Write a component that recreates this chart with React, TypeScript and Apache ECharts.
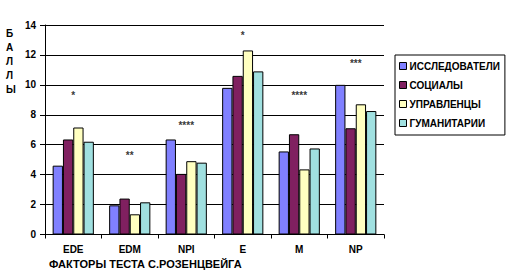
import React, { useEffect, useRef } from "react";
import * as echarts from "echarts";

const categories = ["EDE", "EDM", "NPI", "E", "M", "NP"];
const seriesNames = ["ИССЛЕДОВАТЕЛИ", "СОЦИАЛЫ", "УПРАВЛЕНЦЫ", "ГУМАНИТАРИИ"];
const researchers = [4.6, 1.95, 6.35, 9.8, 5.55, 10.0];
const socials = [6.35, 2.4, 4.05, 10.6, 6.7, 7.1];
const managers = [7.15, 1.35, 4.9, 12.3, 4.35, 8.7];
const humanities = [6.2, 2.15, 4.8, 10.9, 5.75, 8.25];
const starLabels = ["*", "**", "****", "*", "****", "***"];
const starY = [9.3, 5.3, 7.3, 13.3, 9.3, 11.4];
const yTicks = [0, 2, 4, 6, 8, 10, 12, 14];
const colors = ["#8080FF", "#802060", "#FFFFC0", "#A0E0E0"];

const FONT = "'Liberation Sans', Arial, sans-serif";

export default function App() {
  const ref = useRef<HTMLDivElement>(null);
  useEffect(() => {
    if (!ref.current) return;
    const chart = echarts.init(ref.current, undefined, { renderer: "svg" });
    const values = [researchers, socials, managers, humanities];
    const barSeries = values.map((v, i) => ({
      name: seriesNames[i],
      type: "bar",
      data: v,
      barWidth: 10.3,
      barGap: "0%",
      itemStyle: { color: colors[i], borderColor: "#000", borderWidth: 1 },
      z: 3,
    }));
    chart.setOption({
      animation: false,
      backgroundColor: "#fff",
      textStyle: { fontFamily: FONT },
      grid: { left: 45, right: 134, top: 25, bottom: 40.5, containLabel: false },
      legend: {
        orient: "vertical",
        left: 395,
        top: 55,
        width: 113,
        itemWidth: 7,
        itemHeight: 7,
        itemGap: 7,
        padding: [5, 5, 6, 4],
        borderColor: "#000",
        borderWidth: 1,
        icon: "rect",
        itemStyle: { borderColor: "#000", borderWidth: 1 },
        textStyle: {
          fontFamily: FONT,
          fontWeight: "bold",
          fontSize: 10,
          lineHeight: 12,
          height: 12,
          color: "#000",
          padding: [0, 0, 0, -2],
        },
        data: seriesNames,
      },
      xAxis: {
        type: "category",
        data: categories,
        axisLine: { lineStyle: { color: "#000", width: 1 } },
        axisTick: { show: true, length: 4, lineStyle: { color: "#000" } },
        axisLabel: { color: "#000", fontWeight: "bold", fontSize: 10, fontFamily: FONT, margin: 10 },
      },
      yAxis: {
        type: "value",
        min: yTicks[0],
        max: yTicks[yTicks.length - 1],
        interval: 2,
        axisLine: { show: true, lineStyle: { color: "#000", width: 1 } },
        axisTick: { show: true, length: 5, lineStyle: { color: "#000" } },
        axisLabel: { color: "#000", fontWeight: "bold", fontSize: 10, fontFamily: FONT, margin: 9 },
        splitLine: { show: true, lineStyle: { color: "#000", width: 1 } },
      },
      series: [
        ...barSeries,
        {
          type: "scatter",
          data: starY,
          symbolSize: 0,
          silent: true,
          z: 5,
          itemStyle: { color: "#000" },
          label: {
            show: true,
            position: "inside",
            formatter: (p: any) => starLabels[p.dataIndex],
            color: "#000",
            textBorderWidth: 0,
            fontSize: 10,
            fontWeight: "bold",
            fontFamily: FONT,
          },
        },
      ],
      graphic: [
        {
          type: "text",
          left: 6,
          top: 26,
          style: {
            text: "Б\nА\nЛ\nЛ\nЫ",
            fontFamily: FONT,
            fontWeight: "bold",
            fontSize: 10,
            lineHeight: 14,
            fill: "#000",
            align: "center",
          },
        },
        {
          type: "text",
          left: 49,
          top: 258,
          style: {
            text: "ФАКТОРЫ ТЕСТА С.РОЗЕНЦВЕЙГА",
            fontFamily: FONT,
            fontWeight: "bold",
            fontSize: 11,
            fill: "#000",
          },
        },
      ],
    });
    return () => chart.dispose();
  }, []);
  return (
    <div
      ref={ref}
      style={{ position: "fixed", left: 0, top: 0, width: 518, height: 275, background: "#fff" }}
    />
  );
}
